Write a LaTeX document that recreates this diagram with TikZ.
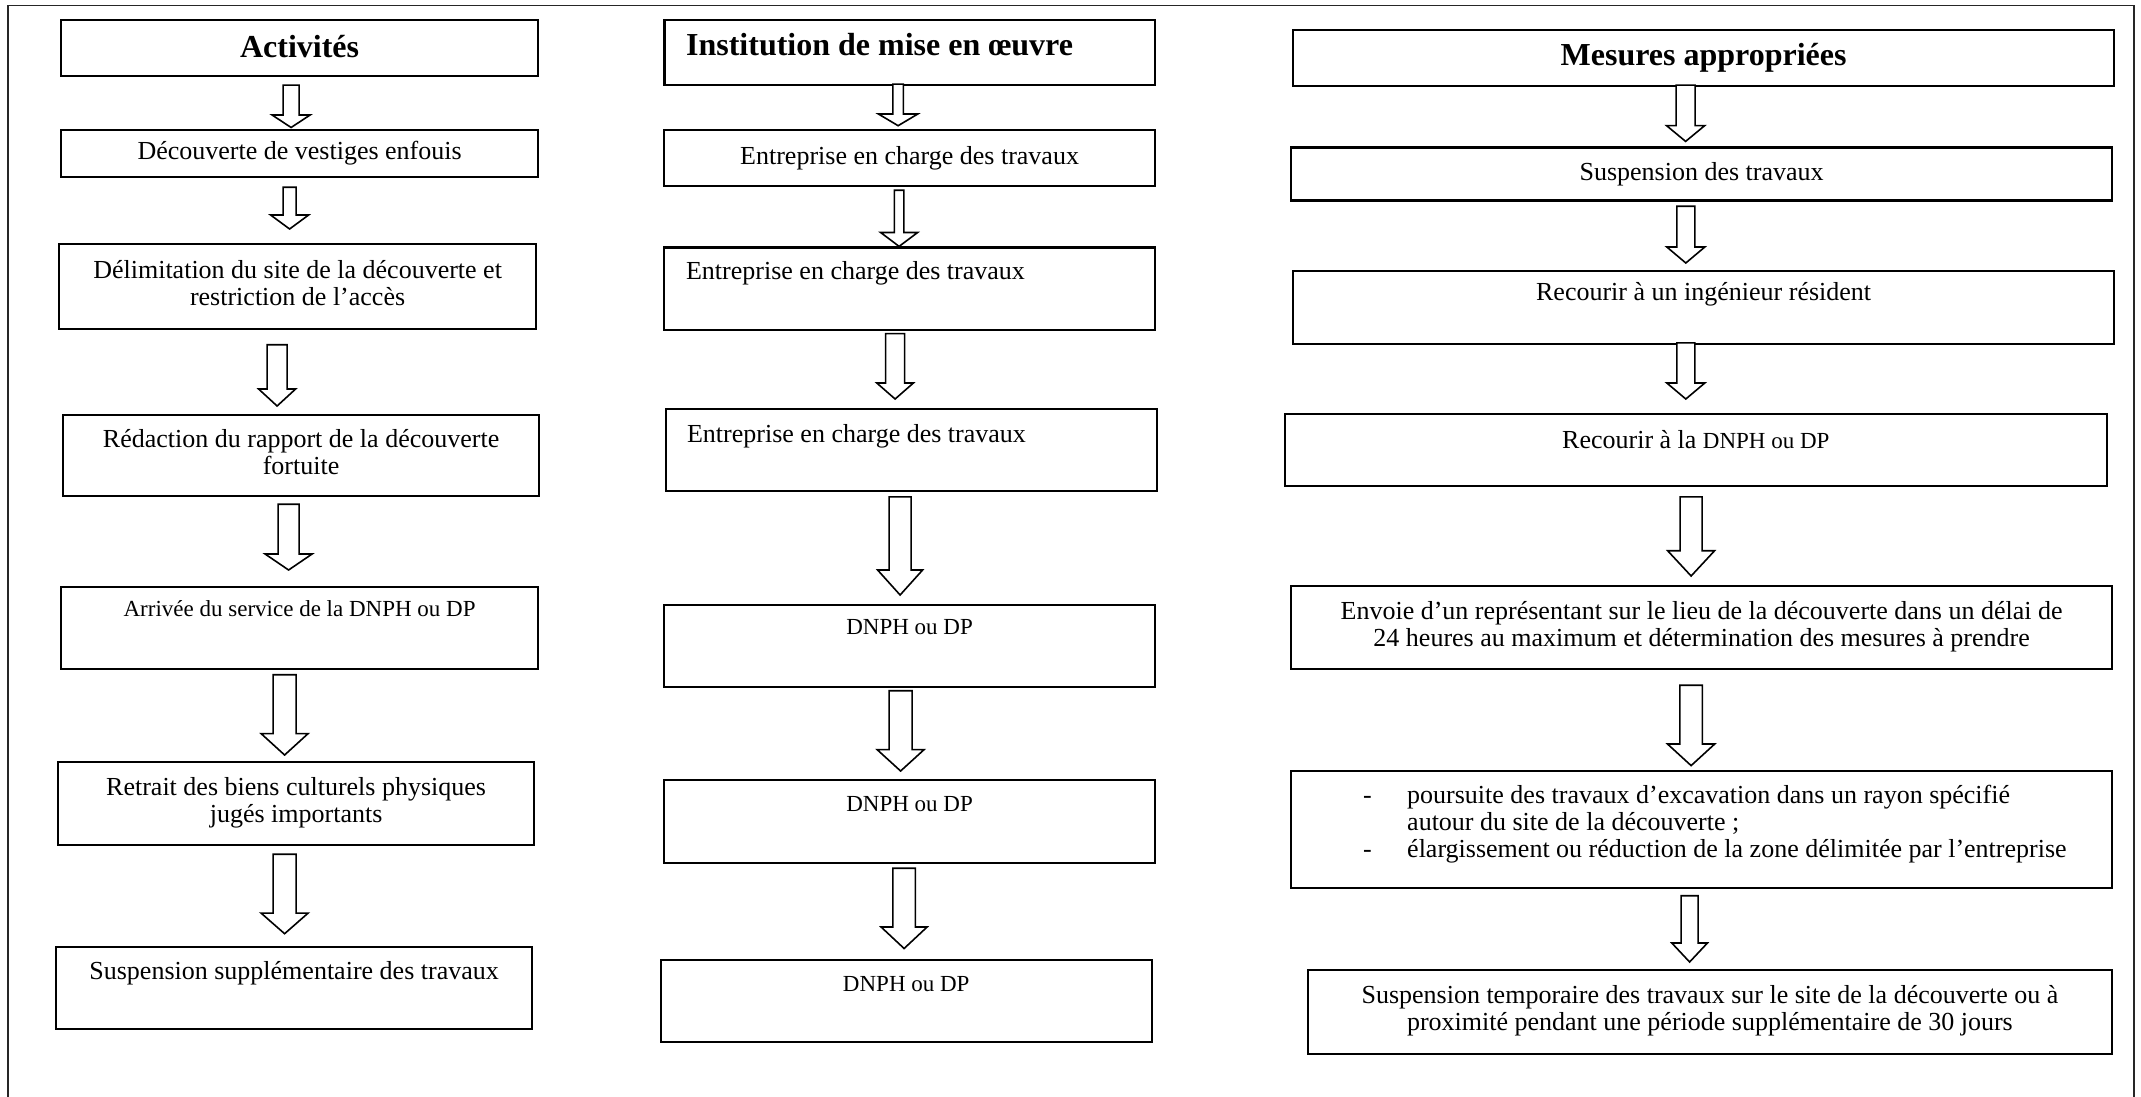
\documentclass[tikz,border=0pt]{standalone}
\usepackage{fontspec}
\setmainfont{Liberation Serif}
\usetikzlibrary{calc}
\newcommand\gtext{\fontsize{26}{27}\selectfont}
\newcommand\ttext{\fontsize{23}{24}\selectfont}
\newcommand\htext{\fontsize{32}{34}\selectfont\bfseries}
\newcommand\lefttext[2]{\makebox[#1pt][l]{#2}}
\newcommand\twolines[3]{\raisebox{#1pt}{\begin{tabular}{@{}c@{}}#2\\#3\end{tabular}}}
\tikzset{
  frame/.style={draw=black, line width=2.2pt, inner sep=0pt, anchor=north west, font=\gtext},
  box/.style={frame, align=center},
  topbox/.style n args={2}{frame, text height=#1, text depth=#2},
  leftbox/.style n args={3}{frame, inner xsep=#1, text height=#2, text depth=#3},
  barr/.style n args={3}{draw=black, fill=white, line width=1.6pt, line join=miter,
    to path={let \p1=(\tikztostart), \p2=(\tikztotarget) in
      (\x1-#1pt,\y1) -- (\x1+#1pt,\y1) -- (\x1+#1pt,\y2+#3pt) -- (\x1+#2pt,\y2+#3pt)
      -- (\x1,\y2) -- (\x1-#2pt,\y2+#3pt) -- (\x1-#1pt,\y2+#3pt) -- cycle}}
}
\begin{document}
\begin{tikzpicture}[x=1pt,y=-1pt]
\useasboundingbox (0,0) rectangle (2141,1097);
\draw[line width=1.5pt, black!85] (8,1097) -- (8,5.5) -- (2134,5.5) -- (2134,1097);

% ---------- Column 1 ----------
\node[box, minimum width=477, minimum height=56] (act) at (60,18.6) {\raisebox{3pt}{\htext Activités}};
\node[box, minimum width=477, minimum height=47] (dec) at (60,129) {Découverte de vestiges enfouis};
\node[frame, minimum width=477, minimum height=85] (del) at (58,243) {\twolines{5}{Délimitation du site de la découverte et}{restriction de l’accès}};
\node[frame, minimum width=476, minimum height=81.4] (red) at (62,413.6) {\twolines{3.5}{Rédaction du rapport de la découverte}{fortuite}};
\node[topbox={29.5}{52.5}, minimum width=477, font=\ttext] (arr) at (60,585.5) {Arrivée du service de la DNPH ou DP};
\node[frame, minimum width=476, minimum height=83] (ret) at (57,761) {\twolines{3}{Retrait des biens culturels physiques}{jugés importants}};
\node[topbox={32.5}{49.8}, minimum width=476] (sup) at (55,945.7) {Suspension supplémentaire des travaux};

\draw[barr={8}{19}{12.5}] ($(act.south)+(-8.5,8.4)$) to ($(dec.north)+(0,-1.5)$);
\draw[barr={6.5}{19}{14}] ($(dec.south)+(-10,9)$) to ($(del.north)+(0,-14)$);
\draw[barr={10}{18.5}{17}] ($(del.south)+(-20.5,14.5)$) to ($(red.north)+(0,-7.6)$);
\draw[barr={10.5}{23.5}{16}] ($(red.south)+(-12.5,7)$) to ($(arr.north)+(0,-15.5)$);
\draw[barr={11.5}{23.5}{21.4}] ($(arr.south)+(-15,5)$) to ($(ret.north)+(0,-6)$);
\draw[barr={11.5}{23.5}{20.6}] ($(ret.south)+(-11.5,8)$) to ($(sup.north)+(0,-12)$);

% ---------- Column 2 ----------
\node[leftbox={21.6}{35.7}{30}, font=\htext] (inst) at (663.4,18.6) {\lefttext{447.4}{Institution de mise en œuvre}};
\node[box, minimum width=491, minimum height=56.4] (ent1) at (663,128.6) {\raisebox{3pt}{Entreprise en charge des travaux}};
\node[leftbox={22}{32}{50.2}] (ent2) at (663,246.4) {\lefttext{447}{Entreprise en charge des travaux}};
\node[leftbox={21}{33.5}{48.6}] (ent3) at (665,407.5) {\lefttext{449}{Entreprise en charge des travaux}};
\node[topbox={30}{52}, minimum width=491, font=\ttext] (dn1) at (663,603.6) {DNPH ou DP};
\node[topbox={31.6}{50.9}, minimum width=491, font=\ttext] (dn2) at (663,779) {DNPH ou DP};
\node[topbox={32}{50.5}, minimum width=491.1, font=\ttext] (dn3) at (659.6,958.5) {DNPH ou DP};

\draw[barr={5.2}{19.7}{11.7}] ($(inst.south)+(-11.7,-2.3)$) to ($(ent1.north)+(0,-2.9)$);
\draw[barr={4.8}{18.5}{13.9}] ($(ent1.south)+(-10.5,3)$) to ($(ent2.north)+(0,0)$);
\draw[barr={9.5}{18.3}{16}] ($(ent2.south)+(-14.5,2.8)$) to ($(ent3.north)+(0,-8.5)$);
\draw[barr={11}{22.5}{25}] ($(ent3.south)+(-11.5,5)$) to ($(dn1.north)+(0,-8.6)$);
\draw[barr={11.5}{23.5}{21.4}] ($(dn1.south)+(-9,2.9)$) to ($(dn2.north)+(0,-8)$);
\draw[barr={11.2}{23}{21.5}] ($(dn2.south)+(-5.5,4.5)$) to ($(dn3.north)+(0,-10)$);

% ---------- Column 3 ----------
\node[box, minimum width=821, minimum height=56.4] (mes) at (1292,28.6) {\raisebox{-1pt}{\htext Mesures appropriées}};
\node[box, minimum width=821, minimum height=52.9] (sus) at (1290,146.4) {Suspension des travaux};
\node[topbox={29.6}{43.4}, minimum width=821] (rec1) at (1292,270) {Recourir à un ingénieur résident};
\node[topbox={34.6}{37.4}, minimum width=821.5] (rec2) at (1284,413) {Recourir à la {\ttext DNPH ou DP}};
\node[frame, minimum width=821, minimum height=83] (env) at (1290,585) {\twolines{3}{Envoie d’un représentant sur le lieu de la découverte dans un délai de}{24 heures au maximum et détermination des mesures à prendre}};
\node[frame, minimum width=821, minimum height=116.7] (bul) at (1290,770) {};
\node[anchor=west, inner sep=0pt, font=\gtext] (bultxt) at (1363,825) {\begin{tabular}{@{}p{44pt}@{}l@{}}-&poursuite des travaux d’excavation dans un rayon spécifié\\&autour du site de la découverte ;\\-&élargissement ou réduction de la zone délimitée par l’entreprise\end{tabular}};
\node[frame, minimum width=804.4, minimum height=83.6] (tmp) at (1306.6,969) {\twolines{3}{Suspension temporaire des travaux sur le site de la découverte ou à}{proximité pendant une période supplémentaire de 30 jours}};

\draw[barr={9.5}{19}{15.7}] ($(mes.south)+(-18,-2)$) to ($(sus.north)+(0,-5)$);
\draw[barr={9}{19}{16}] ($(sus.south)+(-15.8,4.7)$) to ($(rec1.north)+(0,-7)$);
\draw[barr={9}{19}{16}] ($(rec1.south)+(-17.8,-2.3)$) to ($(rec2.north)+(0,-14)$);
\draw[barr={11}{23.5}{25.3}] ($(rec2.south)+(-4.75,9.6)$) to ($(env.north)+(0,-9)$);
\draw[barr={11.2}{23.6}{21.6}] ($(env.south)+(-10.5,15)$) to ($(bul.north)+(0,-4.4)$);
\draw[barr={8.5}{17.8}{19}] ($(bul.south)+(-12,6.8)$) to ($(tmp.north)+(0,-7)$);
\end{tikzpicture}
\end{document}
